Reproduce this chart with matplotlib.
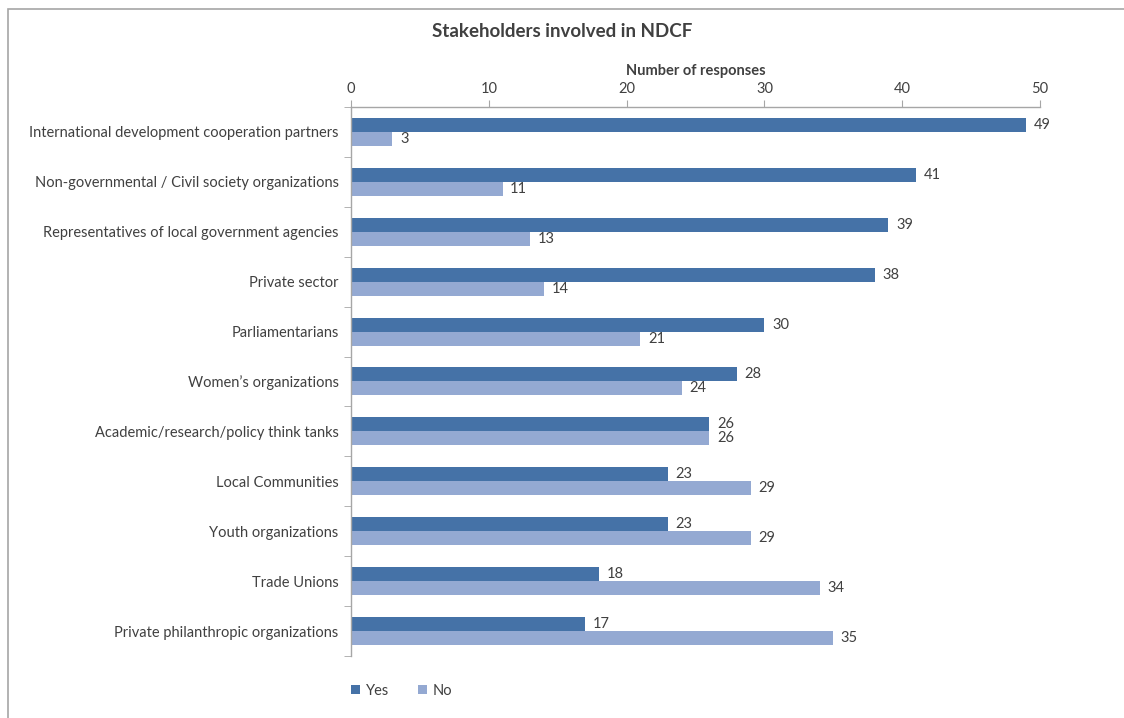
import matplotlib
matplotlib.use("Agg")
import matplotlib.pyplot as plt
import numpy as np

# data (top to bottom as shown)
categories = [
    "International development cooperation partners",
    "Non-governmental / Civil society organizations",
    "Representatives of local government agencies",
    "Private sector",
    "Parliamentarians",
    "Women\u2019s organizations",
    "Academic/research/policy think tanks",
    "Local Communities",
    "Youth organizations",
    "Trade Unions",
    "Private philanthropic organizations",
]
yes_vals = [49, 41, 39, 38, 30, 28, 26, 23, 23, 18, 17]
no_vals = [3, 11, 13, 14, 21, 24, 26, 29, 29, 34, 35]

plt.rcParams['font.family'] = ['Lato', 'DejaVu Sans']
txt = "#404040"
c_yes = "#4572A7"
c_no = "#94A9D2"
grey = "#A6A6A6"

fig = plt.figure(figsize=(11.24, 7.18), dpi=100)
ax = fig.add_axes([0.3123, 0.0864, 0.613, 0.7646])

n = len(categories)
y = np.arange(n)
h = 0.28
ax.barh(y - h/2, yes_vals, height=h, color=c_yes, label="Yes")
ax.barh(y + h/2, no_vals, height=h, color=c_no, label="No")

for yi, v in zip(y, yes_vals):
    ax.text(v + 0.55, yi - h/2, str(v), va="center", ha="left", fontsize=10.5, color=txt)
for yi, v in zip(y, no_vals):
    ax.text(v + 0.55, yi + h/2, str(v), va="center", ha="left", fontsize=10.5, color=txt)

ax.set_ylim(n - 0.5, -0.5)
ax.set_xlim(0, 50)
ax.set_yticks(y)
ax.set_yticklabels(categories, fontsize=10.5, color=txt)
ax.set_yticks(np.arange(n + 1) - 0.5, minor=True)
ax.tick_params(axis="y", which="major", length=0, pad=9)
ax.tick_params(axis="y", which="minor", length=5, color=grey, direction="out")

ax.xaxis.tick_top()
ax.xaxis.set_label_position("top")
ax.set_xticks([0, 10, 20, 30, 40, 50])
ax.tick_params(axis="x", length=5, color=grey, labelsize=10.5, labelcolor=txt, pad=3)
ax.set_xlabel("Number of responses", fontsize=10.5, fontweight="bold", color=txt, labelpad=5)

for s in ["right", "bottom"]:
    ax.spines[s].set_visible(False)
for s in ["top", "left"]:
    ax.spines[s].set_color(grey)
    ax.spines[s].set_linewidth(1)

fig.text(0.50, 0.956, "Stakeholders involved in NDCF", ha="center", va="center",
         fontsize=13.5, fontweight="bold", color=txt)

leg = ax.legend(loc="upper left", bbox_to_anchor=(0.301, 0.066), bbox_transform=fig.transFigure,
                ncol=2, frameon=False, fontsize=10.5, handlelength=0.6, handleheight=0.6,
                columnspacing=2.0, handletextpad=0.4)
for t in leg.get_texts():
    t.set_color(txt)

# outer border
fig.patches.append(plt.Rectangle((8/1124, -0.01), 1.2, (718-9)/718 + 0.01,
                                 transform=fig.transFigure, fill=False,
                                 edgecolor=grey, linewidth=1.2))

fig.savefig("out.png", dpi=100)
